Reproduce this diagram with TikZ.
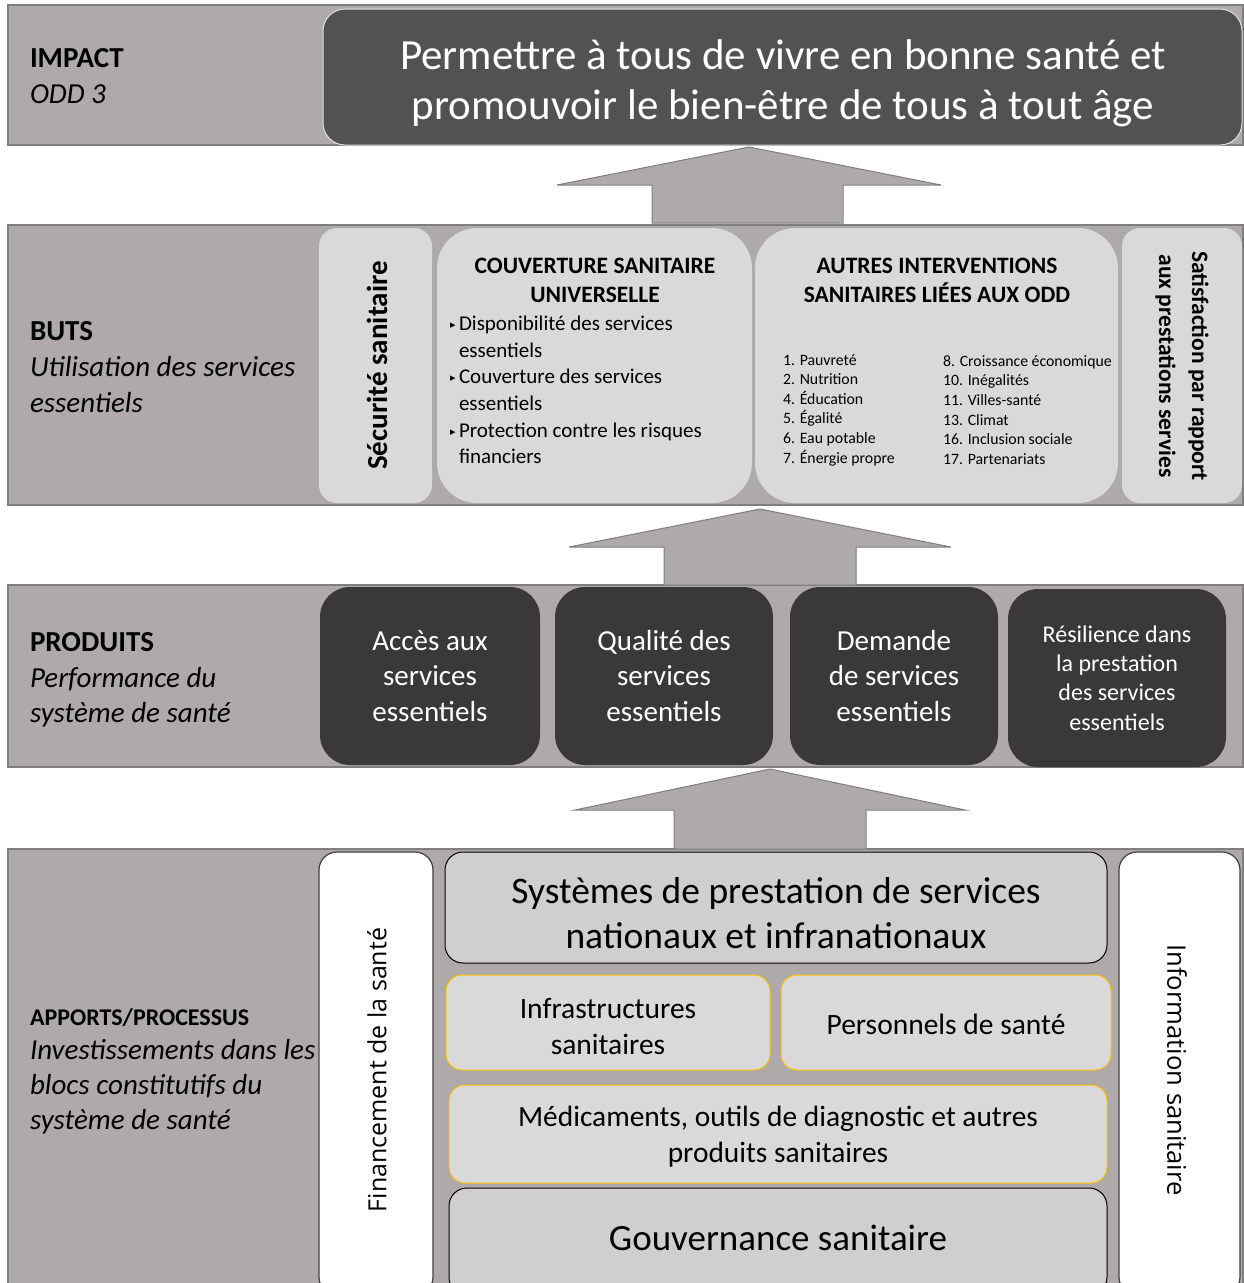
\documentclass[tikz,border=0pt]{standalone}
\usepackage{fontspec}
\setmainfont{Carlito}
\newfontfamily\osans{Open Sans}
\newfontfamily\dvs{DejaVu Sans}
\newcommand{\sz}[2]{\fontsize{#1}{#2}\selectfont}
\newcommand{\bul}{{\dvs\fontsize{11}{11}\selectfont\raisebox{2pt}{\char"25B8}}\,}
\definecolor{bandgray}{HTML}{AEAAAA}
\definecolor{bandline}{HTML}{7F7F7F}
\definecolor{impactfill}{HTML}{525252}
\definecolor{darkbox}{HTML}{3B3838}
\definecolor{lightbox}{HTML}{D9D9D9}
\definecolor{midbox}{HTML}{D0CECE}
\definecolor{goldline}{HTML}{FFC000}
\definecolor{edgeline}{HTML}{404040}
\begin{document}
\begin{tikzpicture}[x=1pt,y=-1pt,
  every node/.style={inner sep=0pt,outer sep=0pt},
  band/.style={rectangle,draw=bandline,fill=bandgray,line width=1.2pt,minimum width=1235},
  impactbox/.style={rectangle,rounded corners=22,fill=impactfill,draw=gray!25,line width=1pt},
  butsbox/.style={rectangle,rounded corners=#1,fill=lightbox},
  prodbox/.style={rectangle,rounded corners=30,fill=darkbox,minimum height=178,text=white,align=center},
  sidebox/.style={rectangle,rounded corners=18,fill=white,draw=edgeline,line width=1.2pt},
  greybox/.style={rectangle,rounded corners=18,fill=midbox,draw=black,line width=1pt},
  goldbox/.style={rectangle,rounded corners=16,fill=lightbox,draw=goldline,line width=1pt},
  bigarrow/.style={fill=bandgray,draw=bandline,line width=1pt},
  lbl/.style={anchor=west,align=left}
]
\useasboundingbox (0,0) rectangle (1244,1283);
\clip (0,0) rectangle (1244,1283);
\fill[white] (0,0) rectangle (1244,1283);

% bands
\node[band,minimum height=140] (bandimpact) at (625.5,75) {};
\node[band,minimum height=280] (bandbuts) at (625.5,365) {};
\node[band,minimum height=182] (bandprod) at (625.5,676) {};
\node[band,minimum height=441] (bandapp) at (625.5,1069.5) {};

% arrows
\draw[bigarrow] (749,147) -- (941,185) -- (843,185) -- (843,223) -- (652,223) -- (652,185) -- (557,185) -- cycle;
\draw[bigarrow] (760,509) -- (951,547) -- (856,547) -- (856,585) -- (664,585) -- (664,547) -- (569,547) -- cycle;
\draw[bigarrow] (770,769) -- (965,810) -- (866,810) -- (866,849) -- (674,849) -- (674,810) -- (575,810) -- cycle;

% left labels
\node[lbl,font=\sz{29}{36}] (limpact) at (30,76) {\textbf{IMPACT}\\\textit{ODD 3}};
\node[lbl,font=\sz{29}{36}] (lbuts) at (30,367) {\textbf{BUTS}\\\textit{Utilisation des services}\\\textit{essentiels}};
\node[lbl,font=\sz{29}{35.5}] (lprod) at (30,680) {\textbf{PRODUITS}\\\textit{Performance du}\\\textit{système de santé}};
\node[lbl,font=\sz{24}{28}] (lappa) at (30,1018) {\textbf{APPORTS/PROCESSUS}};
\node[lbl,font=\sz{29}{35}] (lappb) at (30,1087) {\textit{Investissements dans les}\\\textit{blocs constitutifs du}\\\textit{système de santé}};

% impact
\node[impactbox,minimum width=919,minimum height=136] (impact) at (782.5,77) {};
\node[text=white,align=center,font=\sz{43}{50}] (impacttxt) at (783,83) {Permettre à tous de vivre en bonne santé et\\promouvoir le bien-être de tous à tout âge};

% buts
\node[butsbox=18,minimum width=113,minimum height=275] (secu) at (375.5,365.5) {};
\node[rotate=90,font=\sz{29}{30}\bfseries] (secutxt) at (377,365.5) {Sécurité sanitaire};
\node[butsbox=40,minimum width=315,minimum height=275] (csu) at (594.5,365.5) {};
\node[align=center,font=\sz{23.5}{29}\bfseries] (csutitle) at (595,280) {COUVERTURE SANITAIRE\\UNIVERSELLE};
\node[lbl,font=\sz{21}{26.7}] (csulist) at (450,390) {\bul Disponibilité des services\\\phantom{\bul}essentiels\\\bul Couverture des services\\\phantom{\bul}essentiels\\\bul Protection contre les risques\\\phantom{\bul}financiers};
\node[butsbox=40,minimum width=363,minimum height=275] (autres) at (936.5,365.5) {};
\node[align=center,font=\sz{23.5}{29}\bfseries] (autrestitle) at (937,280) {AUTRES INTERVENTIONS\\SANITAIRES LIÉES AUX ODD};
\node[lbl,font=\sz{15.8}{19.6}] (autresa) at (783,410) {1. Pauvreté\\2. Nutrition\\4. Éducation\\5. Égalité\\6. Eau potable\\7. Énergie propre};
\node[lbl,font=\sz{15.8}{19.6}] (autresb) at (943,410) {8. Croissance économique\\10. Inégalités\\11. Villes-santé\\13. Climat\\16. Inclusion sociale\\17. Partenariats};
\node[butsbox=18,minimum width=120,minimum height=275] (satis) at (1182,365.5) {};
\node[rotate=-90,align=center,font=\sz{23.5}{33}\bfseries] (satistxt) at (1182,366) {Satisfaction par rapport\\aux prestations servies};

% produits
\node[prodbox,minimum width=220,font=\sz{29}{35.5}] (acces) at (430,676) {Accès aux\\services\\essentiels};
\node[prodbox,minimum width=218,font=\sz{29}{35.5}] (qualite) at (664,676) {Qualité des\\services\\essentiels};
\node[prodbox,minimum width=208,font=\sz{29}{35.5}] (demande) at (894,676) {Demande\\de services\\essentiels};
\node[prodbox,minimum width=218,font=\sz{24}{29.3}] (resil) at (1117,678) {Résilience dans\\la prestation\\des services\\essentiels};

% apports
\node[sidebox,minimum width=114,minimum height=443] (fin) at (376,1073.5) {};
\node[rotate=90,font=\osans\sz{25}{30}] (fintxt) at (377,1070) {Financement de la santé};
\node[sidebox,minimum width=121,minimum height=443] (info) at (1179.5,1073.5) {};
\node[rotate=-90,font=\osans\sz{25.6}{30}] (infotxt) at (1177,1070) {Information sanitaire};
\node[greybox,minimum width=662,minimum height=111] (sys) at (776,907.5) {};
\node[align=center,font=\sz{37.5}{45}] (systxt) at (776,913) {Systèmes de prestation de services\\nationaux et infranationaux};
\node[goldbox,minimum width=324,minimum height=95] (infra) at (608,1022.5) {};
\node[align=center,font=\sz{29.5}{36}] (infratxt) at (608,1026) {Infrastructures\\sanitaires};
\node[goldbox,minimum width=330,minimum height=95] (pers) at (946,1022.5) {};
\node[font=\sz{29.5}{36}] (perstxt) at (946,1024) {Personnels de santé};
\node[goldbox,minimum width=658,minimum height=98] (med) at (778,1134) {};
\node[align=center,font=\sz{29.4}{36}] (medtxt) at (778,1137) {Médicaments, outils de diagnostic et autres\\produits sanitaires};
\node[greybox,minimum width=658,minimum height=107] (gouv) at (778,1241.5) {};
\node[font=\sz{37}{40}] (gouvtxt) at (778,1238) {Gouvernance sanitaire};
\end{tikzpicture}
\end{document}
